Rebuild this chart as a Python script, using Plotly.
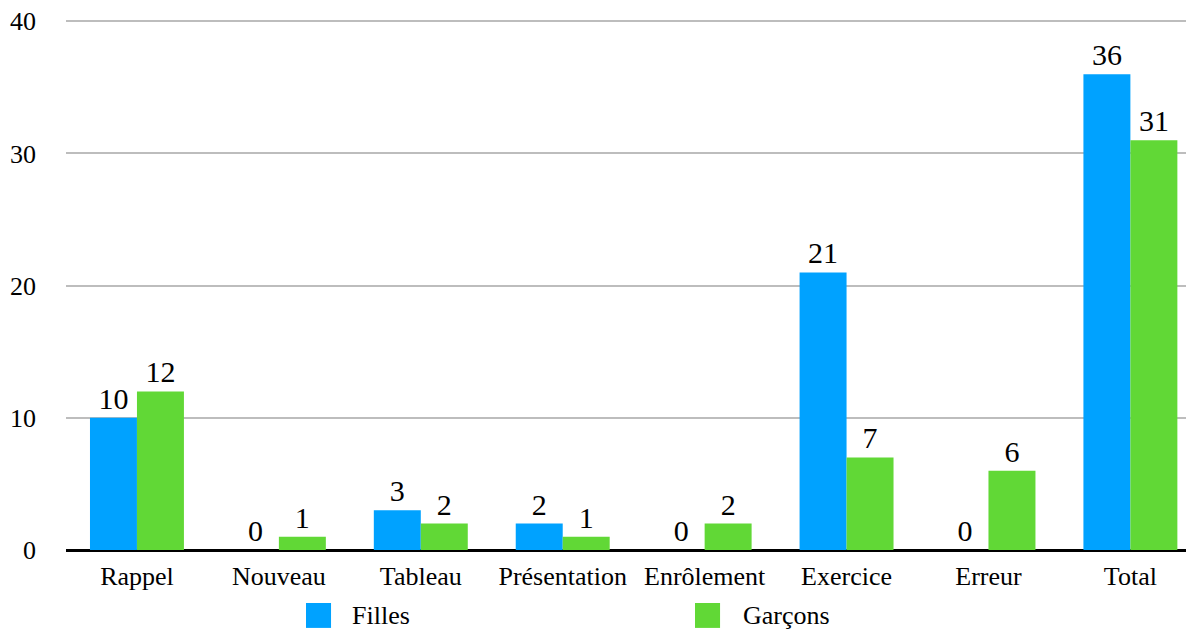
import plotly.graph_objects as go

categories = ["Rappel", "Nouveau", "Tableau", "Présentation", "Enrôlement", "Exercice", "Erreur", "Total"]
filles = [10, 0, 3, 2, 0, 21, 0, 36]
garcons = [12, 1, 2, 1, 2, 7, 6, 31]
y_ticks = [0, 10, 20, 30, 40]
series_names = ["Filles", "Garçons"]

BLUE = "#00A2FF"
GREEN = "#61D836"
FONT = "Liberation Serif, Times New Roman, serif"

fig = go.Figure()
for nm, vals, col in [(series_names[0], filles, BLUE), (series_names[1], garcons, GREEN)]:
    fig.add_trace(go.Bar(x=categories, y=vals, name=nm, marker_color=col, marker_line_width=0,
                         text=vals, textposition="outside", cliponaxis=False, constraintext="none",
                         textfont=dict(size=30, color="black", family=FONT), showlegend=False))

# manual legend (large square swatches like the reference)
legend_pos = [(0.2135, 0.2527), (0.5596, 0.6005)]
for (sx, tx), nm, col in zip(legend_pos, series_names, [BLUE, GREEN]):
    fig.add_shape(type="rect", xref="paper", yref="paper", x0=sx, x1=sx + 0.0223,
                  y0=-0.1, y1=-0.147, fillcolor=col, line_width=0)
    fig.add_annotation(xref="paper", yref="paper", x=tx, y=-0.1236, xanchor="left", yanchor="middle",
                       text=nm, showarrow=False, font=dict(size=26, family=FONT, color="black"))

# the page body adds an 8px offset, so the figure is 8px smaller and margins shifted
fig.update_layout(
    width=1186, height=622,
    margin=dict(l=58, r=4, t=12, b=80, autoexpand=False),
    paper_bgcolor="white", plot_bgcolor="white",
    font=dict(family=FONT, size=26, color="black"),
    barmode="group", bargap=0.338, bargroupgap=0,
    showlegend=False,
)
fig.update_xaxes(range=[-0.5, 7.42], showgrid=False, ticks="", ticklabelstandoff=8, automargin=False,
                 tickfont=dict(size=26, family=FONT, color="black"), showline=False)
fig.update_yaxes(range=[0, 40.1], tickvals=y_ticks, showgrid=True, gridcolor="#BDBDBD", gridwidth=2,
                 zeroline=True, zerolinecolor="black", zerolinewidth=3, ticks="", automargin=False,
                 ticklabeloverflow="allow",
                 ticklabelstandoff=29, tickfont=dict(size=26, family=FONT, color="black"))

fig.write_html("out.html")
